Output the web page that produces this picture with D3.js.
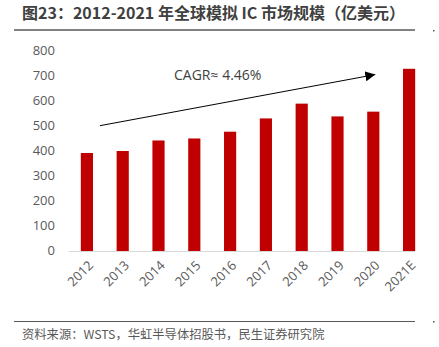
<!DOCTYPE html>
<html><head><meta charset="utf-8">
<script src="https://cdn.jsdelivr.net/npm/d3@7"></script>
<style>
html,body{margin:0;padding:0;background:#fff;}
svg{display:block;font-family:"Noto Sans CJK SC","Noto Sans",sans-serif;}
</style></head>
<body><svg id="c" width="439" height="347"></svg>
<script>
const categories = ["2012","2013","2014","2015","2016","2017","2018","2019","2020","2021E"];
const values = [391, 399, 441, 449, 476, 529, 588, 537, 556, 727];
const yTicks = [0,100,200,300,400,500,600,700,800];
const titleText = "图23：2012-2021 年全球模拟 IC 市场规模（亿美元）";
const sourceText = "资料来源：WSTS，华虹半导体招股书，民生证券研究院";
const cagrText = "CAGR≈ 4.46%";

const svg = d3.select("#c");
const x = d3.scaleBand().domain(categories).range([69, 427]).padding(0);
const y = d3.scaleLinear().domain([0, 800]).range([251, 50.5]);
const barW = x.bandwidth() * 0.34;

// title
svg.append("text").attr("x", 22).attr("y", 19).attr("font-size", 16).attr("font-weight", "bold")
  .attr("fill", "#404040").attr("textLength", 383).attr("lengthAdjust", "spacing").text(titleText);
svg.append("line").attr("x1", 14).attr("x2", 415).attr("y1", 30).attr("y2", 30)
  .attr("stroke", "#595959").attr("stroke-width", 1.5);
svg.append("rect").attr("x", 433).attr("y", 30).attr("width", 1.5).attr("height", 1.5).attr("fill", "#595959");

// y axis labels
svg.append("g").selectAll("text").data(yTicks).join("text")
  .attr("x", 55).attr("y", d => y(d)).attr("dy", "0.33em").attr("text-anchor", "end")
  .attr("font-size", 13).attr("fill", "#595959").attr("font-family", "'Open Sans','Noto Sans',sans-serif")
  .text(d => d);

// bars
svg.append("g").selectAll("rect").data(categories).join("rect")
  .attr("x", (d) => x(d) + x.bandwidth()/2 - barW/2)
  .attr("width", barW)
  .attr("y", (d,i) => y(values[i]))
  .attr("height", (d,i) => y(0) - y(values[i]))
  .attr("fill", "#C00000");

// x axis line
svg.append("line").attr("x1", 69).attr("x2", x(categories[9]) + x.bandwidth()/2 + barW/2)
  .attr("y1", y(0) + 0.5).attr("y2", y(0) + 0.5).attr("stroke", "#d9d9d9").attr("stroke-width", 1);

// x labels
svg.append("g").selectAll("text").data(categories).join("text")
  .attr("transform", d => `translate(${x(d) + x.bandwidth()/2 + 4},${y(0) + 12}) rotate(-45)`)
  .attr("text-anchor", "end").attr("dy", "0.35em")
  .attr("font-size", 13).attr("fill", "#595959").attr("font-family", "'Open Sans','Noto Sans',sans-serif")
  .text(d => d);

// arrow annotation
const defs = svg.append("defs");
defs.append("marker").attr("id", "ah").attr("viewBox", "0 0 10 10").attr("refX", 10).attr("refY", 5)
  .attr("markerWidth", 10).attr("markerHeight", 10).attr("markerUnits", "userSpaceOnUse").attr("orient", "auto")
  .append("path").attr("d", "M0,0 L10,5 L0,10 Z").attr("fill", "#000");
const x0 = x(categories[0]) + x.bandwidth()/2 + 13;
const x1 = x(categories[8]) + x.bandwidth()/2 + 2;
svg.append("line").attr("x1", x0).attr("y1", y(500)).attr("x2", x1).attr("y2", y(704))
  .attr("stroke", "#000").attr("stroke-width", 1).attr("marker-end", "url(#ah)");
svg.append("text").attr("x", 174).attr("y", 80).attr("font-size", 14).attr("fill", "#404040")
  .attr("font-family", "'Open Sans','Noto Sans',sans-serif").text(cagrText);

// footer
svg.append("line").attr("x1", 14).attr("x2", 415).attr("y1", 321.5).attr("y2", 321.5)
  .attr("stroke", "#595959").attr("stroke-width", 1);
svg.append("rect").attr("x", 433).attr("y", 321).attr("width", 1.5).attr("height", 1.5).attr("fill", "#595959");
svg.append("text").attr("x", 22).attr("y", 338.5).attr("font-size", 12.3).attr("fill", "#595959").text(sourceText);
</script></body></html>
